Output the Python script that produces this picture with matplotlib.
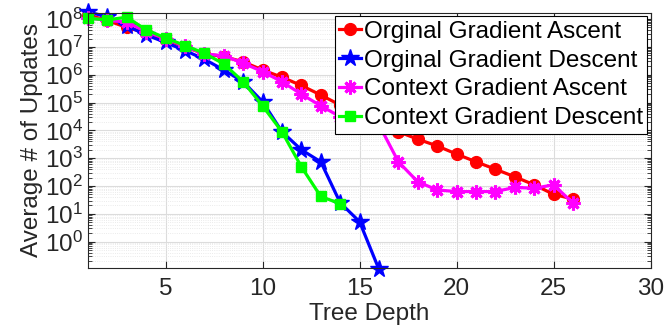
import numpy as np
import matplotlib
matplotlib.use('Agg')
from matplotlib import pyplot as plt

plt.rcParams['font.family'] = ['Liberation Sans', 'DejaVu Sans']
plt.rcParams['mathtext.fontset'] = 'custom'
plt.rcParams['mathtext.rm'] = 'Liberation Sans'
plt.rcParams['mathtext.it'] = 'Liberation Sans'

# profundidade da arvore
depth_long = np.arange(1, 27)
depth_blue = np.arange(1, 17)
depth_green = np.arange(1, 15)

orig_ascent = [1.4e8, 8.9e7, 5.0e7, 3.2e7, 1.8e7, 1.0e7, 5.6e6, 4.5e6, 2.9e6, 1.48e6,
               8.1e5, 4.1e5, 1.86e5, 8.1e4, 4.0e4, 2.0e4, 8.9e3, 4.8e3, 2.75e3, 1.4e3,
               740, 400, 214, 110, 50, 34]
orig_descent = [1.78e8, 1.23e8, 5.75e7, 2.69e7, 1.45e7, 7.4e6, 3.6e6, 1.48e6, 5.6e5, 1.07e5,
                8.9e3, 2.0e3, 740, 25, 5.2, 0.1]
ctx_ascent = [1.12e8, 8.9e7, 7.9e7, 3.5e7, 2.0e7, 1.05e7, 5.6e6, 4.8e6, 2.6e6, 1.29e6,
              5.6e5, 2.0e5, 7.6e4, 3.1e4, 2.2e4, 1.6e4, 740, 141, 72, 63,
              63, 63, 89, 83, 110, 24]
ctx_descent = [1.07e8, 9.3e7, 1.17e8, 4.1e7, 2.1e7, 1.12e7, 5.9e6, 2.45e6, 5.6e5, 7.6e4,
               8.9e3, 490, 42, 23]

labels = ['Orginal Gradient Ascent', 'Orginal Gradient Descent',
          'Context Gradient Ascent', 'Context Gradient Descent']

fs = 17.5

fig = plt.figure(figsize=(6.66, 3.33), dpi=100)
ax = fig.add_axes([0.132, 0.195, 0.845, 0.767])

lw = 2.3
ax.plot(depth_long, orig_ascent, color='#ff0000', lw=lw, marker='o', ms=8.5, label=labels[0], clip_on=False)
ax.plot(depth_blue, orig_descent, color='#0000ff', lw=lw, marker='*', ms=13, label=labels[1], clip_on=False)
ax.plot(depth_long, ctx_ascent, color='#ff00ff', lw=lw, marker=(8, 2, 0), ms=10, mew=2.2,
        label=labels[2], clip_on=False)
ax.plot(depth_green, ctx_descent, color='#00ff00', lw=lw, marker='s', ms=7.5, label=labels[3], clip_on=False)

ax.set_yscale('log')
ax.set_xlim(1, 30)
ax.set_ylim(10 ** -0.95, 10 ** 8.23)
ax.set_xticks([5, 10, 15, 20, 25, 30])
ax.set_yticks([10.0 ** k for k in range(0, 9)])
ax.yaxis.set_minor_locator(matplotlib.ticker.LogLocator(base=10, subs=np.arange(2, 10), numticks=20))
ax.yaxis.set_minor_formatter(matplotlib.ticker.NullFormatter())

ax.grid(True, which='major', color='#dcdcdc', lw=0.8)
ax.grid(True, which='minor', axis='y', color='#e4e4e4', lw=0.6, ls=':')
ax.set_axisbelow(True)

for s in ax.spines.values():
    s.set_color('#262626')
    s.set_linewidth(0.8)
ax.tick_params(which='both', direction='in', top=True, right=True, colors='#262626',
               labelsize=fs, labelcolor='#262626')
ax.tick_params(which='major', length=5)
ax.tick_params(which='minor', length=3)
ax.tick_params(axis='x', pad=7)

ax.set_xlabel('Tree Depth', fontsize=fs, color='#262626', labelpad=2)
ax.set_ylabel('Average # of Updates', fontsize=fs, color='#262626', labelpad=1)

leg = ax.legend(loc='upper right', fontsize=fs, handlelength=0.9, handletextpad=0.1,
                borderpad=0.18, labelspacing=0.28, borderaxespad=0.15, fancybox=False,
                framealpha=1, edgecolor='black')
leg.get_frame().set_linewidth(0.8)

fig.savefig('out.png', dpi=100)
